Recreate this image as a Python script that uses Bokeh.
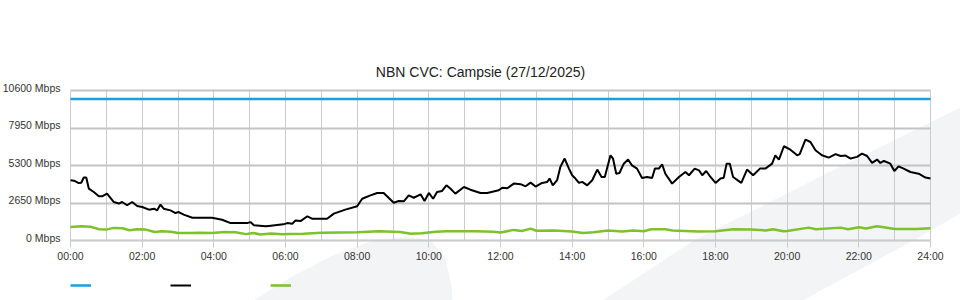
from bokeh.plotting import figure
from bokeh.models import (FixedTicker, Legend, LegendItem, PolyAnnotation, Range1d, Label)
from bokeh.core.properties import value
from bokeh.embed import file_html
from bokeh.resources import INLINE

title_text = "NBN CVC: Campsie (27/12/2025)"
y_ticks = [0, 2650, 5300, 7950, 10600]
y_tick_labels = ["0 Mbps", "2650 Mbps", "5300 Mbps", "7950 Mbps", "10600 Mbps"]
x_ticks = [0, 2, 4, 6, 8, 10, 12, 14, 16, 18, 20, 22, 24]
x_tick_labels = ["00:00", "02:00", "04:00", "06:00", "08:00", "10:00", "12:00",
                 "14:00", "16:00", "18:00", "20:00", "22:00", "24:00"]
grid_hours = list(range(25))

capacity_hours = [0, 24]
capacity_mbps = [10000, 10000]

usage_hours = [0.00, 0.10, 0.23, 0.30, 0.37, 0.44, 0.51, 0.65, 0.79, 0.88, 1.02, 1.21, 1.35,
               1.44, 1.58, 1.72, 1.86, 2.00, 2.19, 2.33, 2.42, 2.51, 2.60, 2.79, 2.93, 3.02,
               3.16, 3.40, 3.95, 4.23, 4.47, 4.93, 5.02, 5.12, 5.44, 5.53, 5.94, 6.05, 6.19,
               6.28, 6.42, 6.61, 6.74, 7.16, 7.35, 7.67, 8.00, 8.14, 8.37, 8.56, 8.74, 9.02,
               9.16, 9.30, 9.44, 9.58, 9.77, 9.88, 10.00, 10.12, 10.23, 10.37, 10.49, 10.60,
               10.74, 10.98, 11.16, 11.44, 11.63, 11.95, 12.05, 12.19, 12.37, 12.56, 12.70,
               12.84, 12.98, 13.16, 13.30, 13.37, 13.46, 13.58, 13.67, 13.79, 13.91, 14.00,
               14.09, 14.19, 14.28, 14.42, 14.56, 14.70, 14.82, 14.91, 15.07, 15.14, 15.23,
               15.32, 15.44, 15.56, 15.67, 15.81, 15.95, 16.09, 16.23, 16.31, 16.42, 16.51,
               16.60, 16.79, 16.98, 17.16, 17.26, 17.42, 17.54, 17.63, 17.74, 17.86, 18.00,
               18.14, 18.23, 18.31, 18.40, 18.49, 18.72, 18.88, 19.05, 19.24, 19.39, 19.58,
               19.67, 19.77, 19.91, 20.09, 20.28, 20.35, 20.51, 20.65, 20.79, 20.97, 21.16,
               21.35, 21.49, 21.63, 21.77, 21.95, 22.09, 22.23, 22.37, 22.51, 22.60, 22.70,
               22.88, 22.99, 23.11, 23.25, 23.44, 23.67, 23.86, 24.00]
usage_mbps = [4260, 4230, 4060, 4080, 4450, 4450, 3670, 3430, 3120, 3120, 3310, 2720, 2610,
              2720, 2490, 2720, 2440, 2370, 2180, 2250, 2130, 2540, 2250, 2130, 1940, 2010,
              1830, 1610, 1610, 1470, 1230, 1230, 1300, 1070, 1000, 1030, 1140, 1230, 1180,
              1420, 1370, 1710, 1540, 1540, 1900, 2180, 2420, 2950, 3190, 3360, 3360, 2670,
              2790, 2770, 3190, 3020, 3260, 2790, 3360, 2950, 3430, 3500, 3900, 3670,
              3310, 3780, 3590, 3360, 3360, 3550, 3730, 3690, 4020, 3980, 3830,
              4090, 3810, 4070, 4130, 4380, 3900, 4260, 5190, 5790, 5080, 4610,
              4380, 4070, 4140, 3900, 4260, 5010, 4490, 4490, 6020, 5790, 4720,
              4770, 5430, 5720, 5310, 5080, 4420, 4490, 4420, 5080, 5080, 5390,
              4720, 4020, 4490, 4840, 4610, 5080, 4960, 4610, 4910, 4490, 4070,
              4380, 4440, 5430, 5430, 4490, 4070, 5010, 4610, 5080, 5080, 5430,
              6020, 5720, 6660, 6420, 6020, 6100, 7130, 6960, 6380, 6020, 5860,
              6100, 5970, 6000, 5790, 5910, 6140, 5970, 5480, 5720, 5480, 5620,
              5430, 4910, 5240, 5080, 4840, 4720, 4450, 4380]

upload_hours = [0.00, 0.30, 0.55, 0.80, 1.00, 1.20, 1.45, 1.65, 1.85, 2.10, 2.35, 2.55, 2.80,
                3.00, 3.35, 3.60, 3.95, 4.30, 4.60, 4.90, 5.10, 5.30, 5.60, 5.90, 6.10, 6.50,
                7.00, 7.50, 8.00, 8.60, 9.20, 9.50, 9.80, 10.20, 10.50, 11.30, 11.80, 12.00,
                12.37, 12.60, 12.84, 13.00, 13.50, 14.00, 14.30, 14.60, 15.00, 15.40, 15.70,
                16.00, 16.20, 16.60, 16.80, 17.50, 18.00, 18.50, 19.00, 19.40, 19.60, 19.90,
                20.00, 20.60, 20.80, 21.50, 21.70, 22.00, 22.20, 22.50, 22.70, 23.00, 23.60,
                24.00]
upload_mbps = [960, 1000, 980, 790, 770, 890, 870, 720, 790, 770, 600, 650, 620,
               530, 530, 550, 530, 600, 580, 450, 530, 430, 490, 450, 460, 480,
               540, 570, 580, 650, 600, 480, 510, 610, 650, 650, 610, 570,
               750, 670, 840, 690, 710, 630, 530, 580, 710, 630, 710,
               650, 800, 800, 710, 630, 660, 790, 770, 710, 800, 650,
               670, 910, 800, 910, 800, 940, 850, 1000, 940, 810, 820,
               860]

# faint background watermark (canvas pixels, y downwards)
band_xs = [602, 693, 826, 960, 960, 913, 802]
band_ys = [300, 240, 173, 107, 213, 240, 300]
swoosh_xs = [253, 290, 330, 370, 405, 430, 445, 451, 452]
swoosh_ys = [300, 277, 256, 241, 236, 240, 258, 285, 300]

FONT = "Liberation Sans"
W, H = 960, 300
FRAME_L, FRAME_R, FRAME_T, FRAME_B = 70, 930, 90, 240
X0, X1 = 0, 24
Y0, Y1 = 0, 10600
px_per_x = (FRAME_R - FRAME_L) / (X1 - X0)
px_per_y = (FRAME_B - FRAME_T) / (Y1 - Y0)
Y_LABEL_RAISE = 210  # y-axis labels sit ~3 px above their grid lines

# the frame covers the whole canvas; axes sit at fixed locations inside it
p = figure(width=W, height=H, output_backend="svg", toolbar_location=None,
           x_range=Range1d(X0 - FRAME_L / px_per_x, X1 + (W - FRAME_R) / px_per_x),
           y_range=Range1d(Y0 - (H - FRAME_B) / px_per_y, Y1 + FRAME_T / px_per_y),
           min_border=0, min_border_left=0, min_border_right=0,
           min_border_top=0, min_border_bottom=0)
p.outline_line_color = None
p.background_fill_color = "white"
p.border_fill_color = "white"

for xs, ys in ((band_xs, band_ys), (swoosh_xs, swoosh_ys)):
    p.add_layout(PolyAnnotation(xs=xs, ys=ys, xs_units="canvas", ys_units="canvas",
                                fill_color="#f3f4f6", fill_alpha=1.0, line_color=None,
                                level="image"))

# axes
p.xaxis.fixed_location = Y0
p.xaxis.bounds = (X0, X1)
p.xaxis.ticker = FixedTicker(ticks=x_ticks)
p.xaxis.major_label_overrides = {t: lab for t, lab in zip(x_ticks, x_tick_labels)}
p.xaxis.axis_line_color = "#cccccc"
p.xaxis.major_tick_line_color = "#cccccc"
p.xaxis.major_tick_out = 7
p.xaxis.major_tick_in = 0
p.xaxis.minor_tick_line_color = None
p.xaxis.major_label_standoff = 2
p.xaxis.major_label_text_font = FONT
p.xaxis.major_label_text_font_size = "10.5px"
p.xaxis.major_label_text_color = "#333333"

y_label_pos = [t + Y_LABEL_RAISE for t in y_ticks]
p.yaxis.fixed_location = X0
p.yaxis.bounds = (Y0, Y1 + Y_LABEL_RAISE)
p.yaxis.ticker = FixedTicker(ticks=y_label_pos)
p.yaxis.major_label_overrides = {t: lab for t, lab in zip(y_label_pos, y_tick_labels)}
p.yaxis.axis_line_color = None
p.yaxis.major_tick_line_color = None
p.yaxis.minor_tick_line_color = None
p.yaxis.major_tick_out = 0
p.yaxis.major_tick_in = 0
p.yaxis.major_label_standoff = 10
p.yaxis.major_label_text_font = FONT
p.yaxis.major_label_text_font_size = "10.5px"
p.yaxis.major_label_text_color = "#333333"

xgrid = p.xgrid[0]
ygrid = p.ygrid[0]
xgrid.ticker = FixedTicker(ticks=grid_hours)
ygrid.ticker = FixedTicker(ticks=y_ticks)
xgrid.bounds = (X0, X1)
ygrid.bounds = (Y0, Y1)
if "cross_bounds" in xgrid.properties():
    xgrid.cross_bounds = (Y0, Y1)
    ygrid.cross_bounds = (X0, X1)
    xgrid.grid_line_color = "#cccccc"
else:
    xgrid.grid_line_color = None
    p.segment(x0=grid_hours, y0=[Y0] * len(grid_hours), x1=grid_hours,
              y1=[Y1] * len(grid_hours), line_color="#cccccc", line_width=1,
              level="underlay")
xgrid.grid_line_width = 1
ygrid.grid_line_color = "#c4c4c4"
ygrid.grid_line_width = 2

r_cap = p.line(capacity_hours, capacity_mbps, line_color="#1a9fdf", line_width=2.5)
r_use = p.line(usage_hours, usage_mbps, line_color="black", line_width=2)
r_up = p.line(upload_hours, upload_mbps, line_color="#7dc12b", line_width=2.5)

# title, centred over the canvas
p.add_layout(Label(x=(X0 + X1) / 2 - (FRAME_L + FRAME_R - W) / 2 / px_per_x,
                   y=Y1 + (FRAME_T - 71.5) / px_per_y,
                   text=title_text, text_align="center", text_baseline="alphabetic",
                   text_font=FONT, text_font_size="14px", text_color="#222222"))

legend = Legend(items=[LegendItem(label=value(""), renderers=[r_cap]),
                       LegendItem(label=value(""), renderers=[r_use]),
                       LegendItem(label=value(""), renderers=[r_up])],
                orientation="horizontal", location=(FRAME_L, H - 288),
                glyph_width=21, glyph_height=6, label_width=79, label_height=6,
                label_standoff=0, spacing=0, padding=0, margin=0,
                label_text_font_size="1px",
                border_line_color=None, background_fill_color=None)
p.add_layout(legend, "center")

open("out.html", "w").write(file_html(p, INLINE))
